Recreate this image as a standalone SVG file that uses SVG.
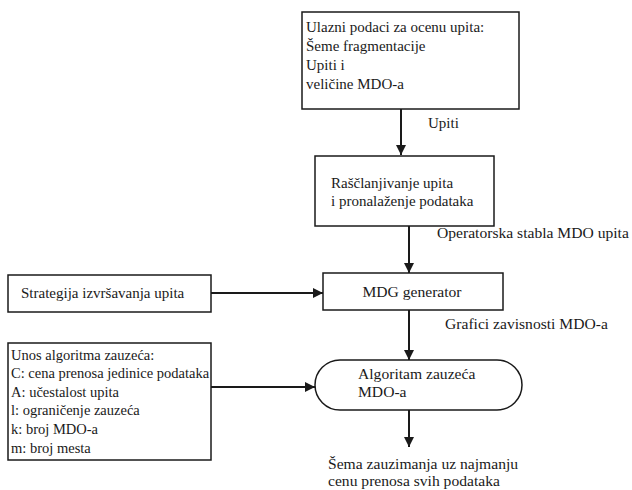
<svg xmlns="http://www.w3.org/2000/svg" width="632" height="490" viewBox="0 0 632 490">
  <style>
    .box { fill: #ffffff; stroke: #1a1a1a; stroke-width: 1.5; }
    .edge { stroke: #1a1a1a; stroke-width: 2; fill: none; }
    .lbl { font-family: "Liberation Serif", "Times New Roman", serif; font-size: 15px; fill: #1a1a1a; }
    .big { font-size: 15.6px; }
    .small { font-size: 14.5px; }
  </style>
  <defs>
    <marker id="arrow" viewBox="0 0 10 10" refX="10" refY="5" markerWidth="10" markerHeight="10" markerUnits="userSpaceOnUse" orient="auto">
      <path d="M0,0 L10,5 L0,10 z" fill="#1a1a1a"/>
    </marker>
  </defs>
  <rect width="632" height="490" fill="#ffffff"/>

  <!-- connectors -->
  <g id="connectors">
    <line class="edge" x1="401" y1="109" x2="401" y2="155" marker-end="url(#arrow)"/>
    <line class="edge" x1="409" y1="226" x2="409" y2="273" marker-end="url(#arrow)"/>
    <line class="edge" x1="211" y1="293" x2="323" y2="293" marker-end="url(#arrow)"/>
    <line class="edge" x1="409" y1="310" x2="409" y2="360" marker-end="url(#arrow)"/>
    <line class="edge" x1="211" y1="387" x2="315" y2="387" marker-end="url(#arrow)"/>
    <line class="edge" x1="409" y1="410" x2="409" y2="447" marker-end="url(#arrow)"/>
    <text class="lbl" x="428" y="128">Upiti</text>
    <text class="lbl big" x="437" y="238">Operatorska stabla MDO upita</text>
    <text class="lbl big" x="445" y="329">Grafici zavisnosti MDO-a</text>
  </g>

  <!-- input data -->
  <g id="ulazni">
    <rect class="box" x="302" y="12" width="217" height="97"/>
    <text class="lbl" x="306" y="32">Ulazni podaci za ocenu upita:</text>
    <text class="lbl" x="306" y="51">Šeme fragmentacije</text>
    <text class="lbl" x="306" y="70">Upiti i</text>
    <text class="lbl" x="306" y="89">veličine MDO-a</text>
  </g>

  <!-- parsing -->
  <g id="rasclanjivanje">
    <rect class="box" x="315" y="156" width="179" height="70"/>
    <text class="lbl" x="331" y="188">Raščlanjivanje upita</text>
    <text class="lbl" x="331" y="206">i pronalaženje podataka</text>
  </g>

  <!-- strategy -->
  <g id="strategija">
    <rect class="box" x="8" y="275" width="203" height="37"/>
    <text class="lbl" x="21" y="298">Strategija izvršavanja upita</text>
  </g>

  <!-- MDG generator -->
  <g id="mdg">
    <rect class="box" x="323" y="273" width="180" height="37"/>
    <text class="lbl big" x="412" y="297" text-anchor="middle">MDG generator</text>
  </g>

  <!-- allocation input -->
  <g id="unos">
    <rect class="box" x="8" y="343" width="203" height="117"/>
    <text class="lbl small" x="11" y="360">Unos algoritma zauzeća:</text>
    <text class="lbl small" x="11" y="378">C: cena prenosa jedinice podataka</text>
    <text class="lbl small" x="11" y="397">A: učestalost upita</text>
    <text class="lbl small" x="11" y="415">l: ograničenje zauzeća</text>
    <text class="lbl small" x="11" y="434">k: broj MDO-a</text>
    <text class="lbl small" x="11" y="453">m: broj mesta</text>
  </g>

  <!-- allocation algorithm -->
  <g id="algoritam">
    <rect class="box" x="315" y="360" width="207" height="50" rx="25" ry="25"/>
    <text class="lbl big" x="358" y="379">Algoritam zauzeća</text>
    <text class="lbl big" x="358" y="397">MDO-a</text>
  </g>

  <!-- result -->
  <g id="rezultat">
    <text class="lbl big" x="328" y="469">Šema zauzimanja uz najmanju</text>
    <text class="lbl big" x="328" y="486">cenu prenosa svih podataka</text>
  </g>
</svg>
